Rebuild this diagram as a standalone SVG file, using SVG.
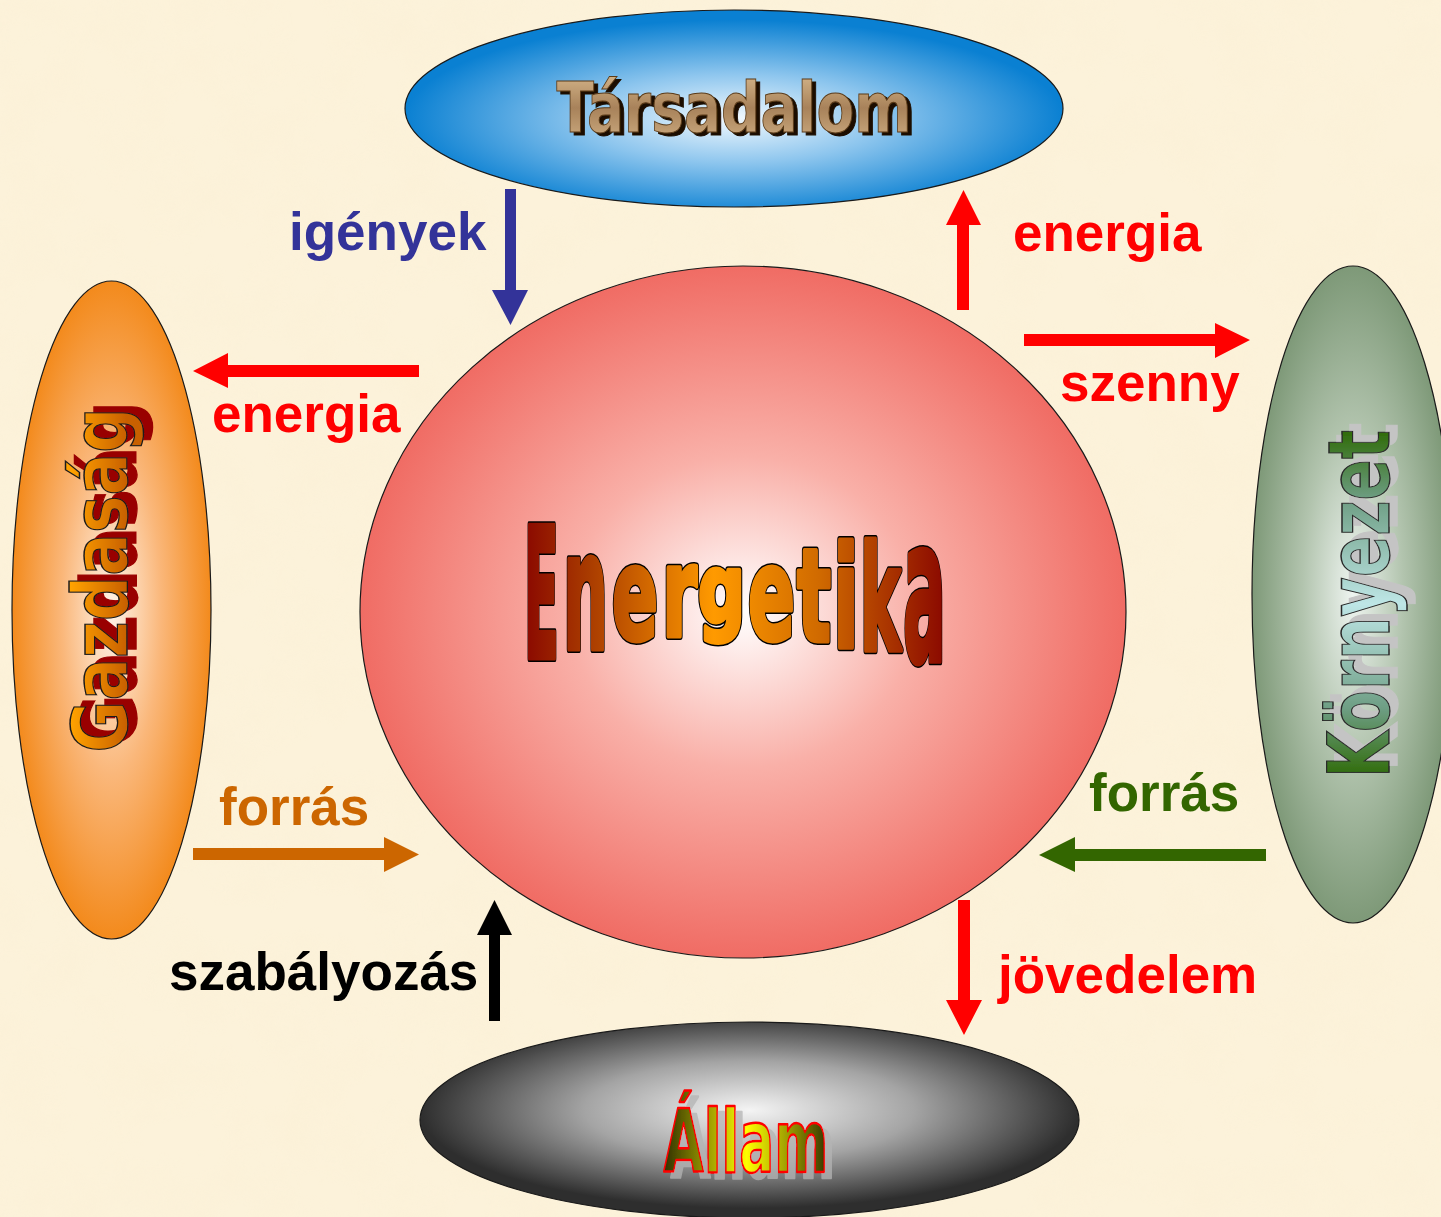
<svg xmlns="http://www.w3.org/2000/svg" xmlns:xlink="http://www.w3.org/1999/xlink" width="1441" height="1217" viewBox="0 0 1441 1217">
<style>
.lbl{font-family:"Liberation Sans",Arial,sans-serif;font-weight:bold;font-size:53px}
.art{font-family:"DejaVu Sans","Liberation Sans",sans-serif;font-weight:bold}
.shape{stroke:#1a1a1a;stroke-width:1.2}
</style>
<defs>
<filter id="paper" x="0" y="0" width="100%" height="100%">
<feTurbulence type="fractalNoise" baseFrequency="0.018" numOctaves="3" seed="7"/>
<feColorMatrix type="matrix" values="0 0 0 0 0.96  0 0 0 0 0.86  0 0 0 0 0.66  1.1 0 0 0 -0.42"/>
</filter>
<filter id="shTars" x="-5%" y="-20%" width="110%" height="140%">
<feOffset in="SourceAlpha" dx="4" dy="3" result="o"/><feFlood flood-color="#1E1000"/><feComposite in2="o" operator="in"/>
<feMerge><feMergeNode/><feMergeNode in="SourceGraphic"/></feMerge>
</filter>
<filter id="shGazd" x="-10%" y="-30%" width="120%" height="160%">
<feOffset in="SourceAlpha" dx="6" dy="9" result="o"/><feFlood flood-color="#990000"/><feComposite in2="o" operator="in"/>
<feMerge><feMergeNode/><feMergeNode in="SourceGraphic"/></feMerge>
</filter>
<filter id="shKorn" x="-10%" y="-30%" width="120%" height="160%">
<feOffset in="SourceAlpha" dx="7" dy="8" result="o"/><feFlood flood-color="#C4C4C4"/><feComposite in2="o" operator="in"/>
<feMerge><feMergeNode/><feMergeNode in="SourceGraphic"/></feMerge>
</filter>
<filter id="shAllam" x="-10%" y="-30%" width="120%" height="160%">
<feOffset in="SourceAlpha" dx="7" dy="6" result="o"/><feFlood flood-color="#B4B4B4" flood-opacity="0.75"/><feComposite in2="o" operator="in"/>
<feMerge><feMergeNode/><feMergeNode in="SourceGraphic"/></feMerge>
</filter>
<radialGradient id="gTop" cx="50%" cy="55%" r="50%"><stop offset="0" stop-color="#F2F9FE"/><stop offset="0.45" stop-color="#8EC6EE"/><stop offset="1" stop-color="#0A80D2"/></radialGradient>
<radialGradient id="gLeft" cx="50%" cy="50%" r="50%"><stop offset="0" stop-color="#FFF3E8"/><stop offset="0.5" stop-color="#FAB77A"/><stop offset="1" stop-color="#F38A1C"/></radialGradient>
<radialGradient id="gRight" cx="50%" cy="50%" r="50%"><stop offset="0" stop-color="#EEF4F0"/><stop offset="0.5" stop-color="#B2C4AE"/><stop offset="1" stop-color="#7E9978"/></radialGradient>
<radialGradient id="gBot" cx="50%" cy="45%" r="50%"><stop offset="0" stop-color="#F4F4F4"/><stop offset="0.5" stop-color="#A4A4A4"/><stop offset="1" stop-color="#2E2E2E"/></radialGradient>
<radialGradient id="gMid" cx="50%" cy="50%" r="50%"><stop offset="0" stop-color="#FFFFFF"/><stop offset="0.45" stop-color="#F9B0A8"/><stop offset="1" stop-color="#F06C64"/></radialGradient>
<linearGradient id="gEner" gradientUnits="userSpaceOnUse" x1="524" y1="0" x2="946" y2="0"><stop offset="0" stop-color="#8A0800"/><stop offset="0.15" stop-color="#A83A00"/><stop offset="0.45" stop-color="#FF9A00"/><stop offset="0.7" stop-color="#D06A00"/><stop offset="1" stop-color="#8A0800"/></linearGradient>
<linearGradient id="gTars" x1="0" y1="0" x2="0" y2="1"><stop offset="0" stop-color="#DCBE92"/><stop offset="0.5" stop-color="#A8825A"/><stop offset="1" stop-color="#D4B488"/></linearGradient>
<linearGradient id="gGazd" gradientUnits="userSpaceOnUse" x1="0" y1="-56" x2="0" y2="0"><stop offset="0" stop-color="#FFA200"/><stop offset="1" stop-color="#C86000"/></linearGradient>
<linearGradient id="gKorn" gradientUnits="userSpaceOnUse" x1="-174" y1="0" x2="174" y2="0"><stop offset="0" stop-color="#2E6A06"/><stop offset="0.2" stop-color="#6E9E84"/><stop offset="0.5" stop-color="#BEE6E6"/><stop offset="0.8" stop-color="#6E9E84"/><stop offset="1" stop-color="#2E6A06"/></linearGradient>
<linearGradient id="gAllam" gradientUnits="userSpaceOnUse" x1="663" y1="0" x2="830" y2="0"><stop offset="0" stop-color="#2E2E00"/><stop offset="0.3" stop-color="#A8A800"/><stop offset="0.5" stop-color="#FFFF00"/><stop offset="0.72" stop-color="#A8A800"/><stop offset="1" stop-color="#2E2E00"/></linearGradient>
<g id="enerLetters" class="art" stroke-linejoin="round">
<text x="524" y="658" font-size="182" textLength="35" lengthAdjust="spacingAndGlyphs">E</text>
<text x="563" y="649" font-size="164" textLength="45" lengthAdjust="spacingAndGlyphs">n</text>
<text x="612" y="639" font-size="128" textLength="46" lengthAdjust="spacingAndGlyphs">e</text>
<text x="662" y="636" font-size="124" textLength="35" lengthAdjust="spacingAndGlyphs">r</text>
<text x="698" y="622" font-size="95" textLength="47" lengthAdjust="spacingAndGlyphs">g</text>
<text x="748" y="639" font-size="128" textLength="47" lengthAdjust="spacingAndGlyphs">e</text>
<text x="797" y="641" font-size="128" textLength="34" lengthAdjust="spacingAndGlyphs">t</text>
<text x="833" y="647" font-size="140" textLength="26" lengthAdjust="spacingAndGlyphs">i</text>
<text x="860" y="650" font-size="146" textLength="41" lengthAdjust="spacingAndGlyphs">k</text>
<text x="903" y="661" font-size="200" textLength="43" lengthAdjust="spacingAndGlyphs">a</text>
</g>
</defs>

<rect width="1441" height="1217" fill="#FCF2DA"/>
<rect width="1441" height="1217" filter="url(#paper)" opacity="0.6"/>

<g id="node-tarsadalom">
<ellipse class="shape" cx="734" cy="108.5" rx="329" ry="98.5" fill="url(#gTop)"/>
<text class="art" x="734" y="132" font-size="70" text-anchor="middle" textLength="355" lengthAdjust="spacingAndGlyphs" fill="url(#gTars)" stroke="#5A3A18" stroke-width="1" filter="url(#shTars)">Társadalom</text>
</g>

<g id="node-gazdasag">
<ellipse class="shape" cx="111.5" cy="610" rx="99.5" ry="329" fill="url(#gLeft)"/>
<g transform="translate(127,580) rotate(-90)">
<text class="art" x="0" y="0" font-size="76" text-anchor="middle" textLength="345" lengthAdjust="spacingAndGlyphs" fill="url(#gGazd)" stroke="#1a1a1a" stroke-width="1.3" filter="url(#shGazd)">Gazdaság</text>
</g>
</g>

<g id="node-kornyezet">
<ellipse class="shape" cx="1353" cy="594.5" rx="101" ry="328.5" fill="url(#gRight)"/>
<g transform="translate(1389,604) rotate(-90)">
<text class="art" x="0" y="0" font-size="85" text-anchor="middle" textLength="348" lengthAdjust="spacingAndGlyphs" fill="url(#gKorn)" stroke="#2a2a2a" stroke-width="1.3" filter="url(#shKorn)">Környezet</text>
</g>
</g>

<g id="node-allam">
<ellipse class="shape" cx="749.5" cy="1120" rx="329.5" ry="98" fill="url(#gBot)"/>
<text class="art" x="746" y="1172" font-size="88" text-anchor="middle" textLength="165" lengthAdjust="spacingAndGlyphs" fill="url(#gAllam)" stroke="#FF0000" stroke-width="2.5" stroke-linejoin="round" filter="url(#shAllam)">Állam</text>
</g>

<g id="node-energetika">
<ellipse class="shape" cx="743" cy="612" rx="383" ry="346" fill="url(#gMid)"/>
<use href="#enerLetters" xlink:href="#enerLetters" fill="#000" stroke="#000" stroke-width="8"/>
<use href="#enerLetters" xlink:href="#enerLetters" fill="url(#gEner)" stroke="url(#gEner)" stroke-width="5"/>
</g>

<g id="connectors">
<g id="c-igenyek">
<polygon fill="#333399" points="505,189 516,189 516,290 528,290 510.5,325 492,290 505,290"/>
<text class="lbl" x="289" y="250" fill="#333399">igények</text>
</g>
<g id="c-energia-top">
<polygon fill="#FF0000" points="957,310 969,310 969,225 981,225 963.5,190 946,225 957,225"/>
<text class="lbl" x="1013" y="251" fill="#FF0000">energia</text>
</g>
<g id="c-szenny">
<polygon fill="#FF0000" points="1024,334 1215,334 1215,323 1250,340 1215,358 1215,346 1024,346"/>
<text class="lbl" x="1060" y="401" fill="#FF0000">szenny</text>
</g>
<g id="c-energia-left">
<polygon fill="#FF0000" points="419,365 228,365 228,353 193,371 228,388 228,377 419,377"/>
<text class="lbl" x="212" y="432" fill="#FF0000">energia</text>
</g>
<g id="c-forras-left">
<polygon fill="#CC6600" points="193,848 384,848 384,837 419,854.5 384,872 384,860 193,860"/>
<text class="lbl" x="219" y="825" fill="#CC6600">forrás</text>
</g>
<g id="c-forras-right">
<polygon fill="#336600" points="1266,849 1075,849 1075,837 1039,855 1075,872 1075,861 1266,861"/>
<text class="lbl" x="1089" y="811" fill="#336600">forrás</text>
</g>
<g id="c-szabalyozas">
<polygon fill="#000000" points="489,1021 500,1021 500,935 512,935 494.5,900 477,935 489,935"/>
<text class="lbl" x="169" y="990" fill="#000000">szabályozás</text>
</g>
<g id="c-jovedelem">
<polygon fill="#FF0000" points="958,900 970,900 970,1000 982,1000 964,1035 946,1000 958,1000"/>
<text class="lbl" x="998" y="993" fill="#FF0000">jövedelem</text>
</g>
</g>
</svg>
